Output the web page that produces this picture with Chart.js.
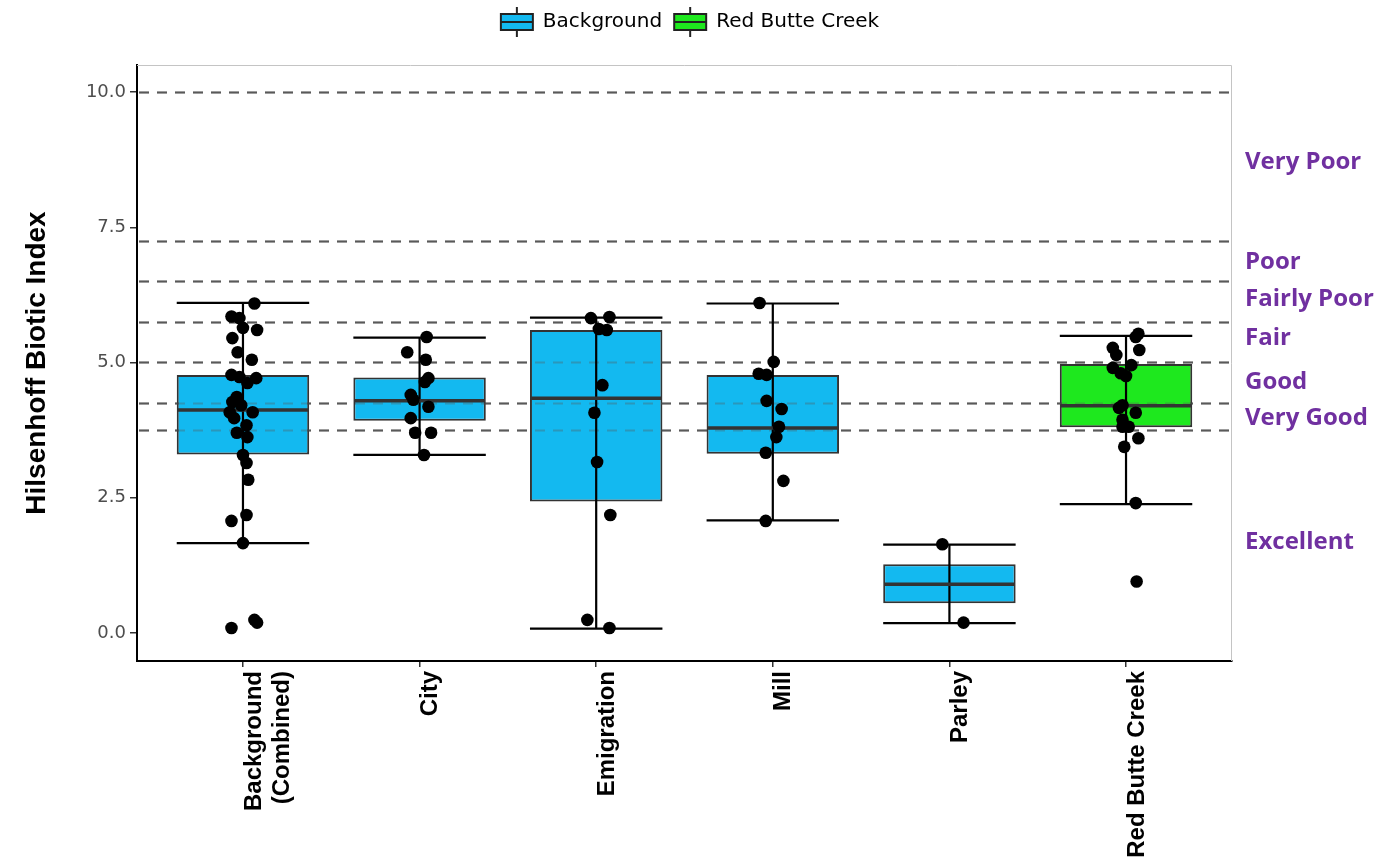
<!DOCTYPE html>
<html lang="en">
<head>
    <meta charset="UTF-8">
    <title>Hilsenhoff Biotic Index</title>
    <script src="https://cdn.jsdelivr.net/npm/chart.js"></script>
    <style>
        body { margin: 0; background: #fff; }
        .wrap { width: 1380px; height: 864px; position: relative; }
    </style>
</head>
<body>
<div class="wrap"><canvas id="myChart"></canvas></div>
<script>
    // sites on the x axis and which group each belongs to
    const categories = [['Background', '(Combined)'], 'City', 'Emigration', 'Mill', 'Parley', 'Red Butte Creek'];
    const groups = ['Background', 'Background', 'Background', 'Background', 'Background', 'Red Butte Creek'];

    // box stats
    const whiskerLow  = [1.66, 3.29, 0.08, 2.08, 0.18, 2.38];
    const q1          = [3.30, 3.92, 2.43, 3.31, 0.55, 3.80];
    const median      = [4.12, 4.29, 4.34, 3.79, 0.90, 4.20];
    const q3          = [4.77, 4.72, 5.60, 4.77, 1.27, 4.97];
    const whiskerHigh = [6.10, 5.46, 5.83, 6.09, 1.63, 5.49];

    // samples: [jitter, value]
    const points = [
        [[0.065, 6.09], [-0.065, 5.85], [-0.02, 5.82], [0, 5.64], [0.08, 5.60], [-0.06, 5.45], [-0.03, 5.19],
         [0.05, 5.05], [-0.065, 4.77], [-0.02, 4.73], [0.075, 4.71], [0.025, 4.62], [-0.035, 4.36], [-0.06, 4.27],
         [-0.01, 4.21], [0.055, 4.08], [-0.075, 4.08], [-0.05, 3.97], [0.02, 3.84], [-0.035, 3.70], [0.025, 3.62],
         [0, 3.29], [0.02, 3.14], [0.03, 2.83], [0.02, 2.18], [-0.065, 2.07], [0, 1.66], [-0.065, 0.09],
         [0.065, 0.24], [0.08, 0.19]],
        [[0.04, 5.47], [-0.07, 5.19], [0.035, 5.05], [0.05, 4.71], [0.03, 4.64], [-0.05, 4.40], [-0.035, 4.31],
         [0.05, 4.18], [-0.05, 3.97], [-0.025, 3.70], [0.065, 3.70], [0.025, 3.29]],
        [[-0.03, 5.82], [0.075, 5.84], [0.015, 5.62], [0.06, 5.60], [0.035, 4.58], [-0.01, 4.07], [0.005, 3.16],
         [0.08, 2.18], [-0.05, 0.24], [0.075, 0.09]],
        [[-0.075, 6.10], [0.005, 5.01], [-0.08, 4.79], [-0.035, 4.77], [-0.035, 4.29], [0.05, 4.14], [0.035, 3.81],
         [0.02, 3.62], [-0.04, 3.33], [0.06, 2.81], [-0.04, 2.07]],
        [[-0.04, 1.64], [0.08, 0.19]],
        [[0.07, 5.53], [0.055, 5.47], [-0.075, 5.27], [0.075, 5.23], [-0.055, 5.14], [-0.075, 4.90], [0.03, 4.95],
         [-0.03, 4.80], [0, 4.75], [-0.02, 4.21], [-0.04, 4.16], [0.055, 4.07], [-0.02, 3.94], [0.015, 3.81],
         [-0.02, 3.81], [0.07, 3.60], [-0.01, 3.44], [0.055, 2.40], [0.06, 0.95]]
    ];

    // rating classes on the right
    const thresholds = [10.0, 7.25, 6.5, 5.75, 5.0, 4.25, 3.75];
    const ratingLabels = ['Very Poor', 'Poor', 'Fairly Poor', 'Fair', 'Good', 'Very Good', 'Excellent'];
    const ratingAt = [8.71, 6.86, 6.17, 5.45, 4.64, 3.97, 1.68];
    const yTicks = [0, 2.5, 5, 7.5, 10];

    const groupColors = { 'Background': '#13B9F0', 'Red Butte Creek': '#1EE81E' };
    const boxWidth = 0.75;

    function boxData(group) {
        const out = [];
        categories.forEach((c, i) => {
            if (groups[i] === group) out.push({ x: i, y: [q1[i], q3[i]] });
        });
        return out;
    }

    function makeIcon(fill) {
        const c = document.createElement('canvas');
        c.width = 36;
        c.height = 32;
        const g = c.getContext('2d');
        g.strokeStyle = '#222';
        g.lineWidth = 2;
        g.beginPath();
        g.moveTo(18, 1); g.lineTo(18, 31);
        g.stroke();
        g.fillStyle = fill;
        g.fillRect(2, 8, 32, 16);
        g.strokeRect(2, 8, 32, 16);
        g.beginPath();
        g.moveTo(2, 16); g.lineTo(34, 16);
        g.stroke();
        return c;
    }

    function dashes(ctx, chart, color, width) {
        const { left, right } = chart.chartArea;
        const y = chart.scales.y;
        ctx.save();
        ctx.strokeStyle = color;
        ctx.lineWidth = width;
        ctx.setLineDash([10, 8]);
        thresholds.forEach(t => {
            const py = Math.round(y.getPixelForValue(t)) + 0.5;
            ctx.beginPath();
            ctx.moveTo(left + 2, py);
            ctx.lineTo(right, py);
            ctx.stroke();
        });
        ctx.restore();
    }

    const boxExtras = {
        id: 'boxExtras',
        beforeDatasetsDraw(chart) {
            dashes(chart.ctx, chart, '#5a5a5a', 2);
        },
        beforeDatasetDraw(chart, args) {
            if (args.meta.type !== 'scatter') return;
            const ctx = chart.ctx;
            const x = chart.scales.x, y = chart.scales.y;
            dashes(ctx, chart, 'rgba(90,90,90,0.35)', 2);
            ctx.save();
            categories.forEach((c, i) => {
                const xl = x.getPixelForValue(i - boxWidth / 2);
                const xr = x.getPixelForValue(i + boxWidth / 2);
                const xc = x.getPixelForValue(i);
                const lo = y.getPixelForValue(whiskerLow[i]);
                const hi = y.getPixelForValue(whiskerHigh[i]);
                ctx.strokeStyle = '#000';
                ctx.lineWidth = 2.2;
                ctx.beginPath();
                ctx.moveTo(xc, lo); ctx.lineTo(xc, hi);
                ctx.moveTo(xl, lo); ctx.lineTo(xr, lo);
                ctx.moveTo(xl, hi); ctx.lineTo(xr, hi);
                ctx.stroke();
                const md = y.getPixelForValue(median[i]);
                ctx.strokeStyle = '#333';
                ctx.lineWidth = 3.5;
                ctx.beginPath();
                ctx.moveTo(xl + 1, md); ctx.lineTo(xr - 1, md);
                ctx.stroke();
            });
            ctx.restore();
        },
        afterDraw(chart) {
            const ctx = chart.ctx;
            const { left, right, top, bottom } = chart.chartArea;
            ctx.save();
            ctx.strokeStyle = '#c4c4c4';
            ctx.lineWidth = 1;
            ctx.beginPath();
            ctx.moveTo(left, top + 0.5);
            ctx.lineTo(right - 0.5, top + 0.5);
            ctx.lineTo(right - 0.5, bottom);
            ctx.stroke();
            ctx.fillStyle = '#7030A0';
            ctx.font = 'bold 24px "Open Sans"';
            ctx.textAlign = 'left';
            ctx.textBaseline = 'middle';
            ratingLabels.forEach((t, i) => {
                ctx.fillText(t, right + 13, chart.scales.y.getPixelForValue(ratingAt[i]));
            });
            ctx.restore();
        }
    };

    const ctx = document.getElementById('myChart').getContext('2d');
    const myChart = new Chart(ctx, {
        type: 'bar',
        data: {
            datasets: [
                {
                    label: 'Background',
                    data: boxData('Background'),
                    backgroundColor: groupColors['Background'],
                    borderColor: '#333',
                    borderWidth: 2,
                    borderSkipped: false,
                    grouped: false,
                    barPercentage: boxWidth,
                    categoryPercentage: 1,
                    order: 2
                },
                {
                    label: 'Red Butte Creek',
                    data: boxData('Red Butte Creek'),
                    backgroundColor: groupColors['Red Butte Creek'],
                    borderColor: '#333',
                    borderWidth: 2,
                    borderSkipped: false,
                    grouped: false,
                    barPercentage: boxWidth,
                    categoryPercentage: 1,
                    order: 2
                },
                {
                    type: 'scatter',
                    label: 'samples',
                    data: points.flatMap((list, i) => list.map(p => ({ x: i + p[0], y: p[1] }))),
                    pointRadius: 6.3,
                    pointBackgroundColor: '#000',
                    pointBorderWidth: 0,
                    order: 1
                }
            ]
        },
        options: {
            responsive: true,
            maintainAspectRatio: false,
            animation: false,
            layout: { padding: 0 },
            plugins: {
                tooltip: { enabled: false },
                legend: {
                    position: 'top',
                    weight: 3000,
                    labels: {
                        usePointStyle: true,
                        pointStyleWidth: 32,
                        padding: 12,
                        color: '#222',
                        font: { family: 'DejaVu Sans', size: 20 },
                        generateLabels: () => ['Background', 'Red Butte Creek'].map((g, i) => ({
                            text: g,
                            pointStyle: makeIcon(groupColors[g]),
                            fillStyle: groupColors[g],
                            strokeStyle: '#222',
                            lineWidth: 0,
                            hidden: false,
                            datasetIndex: i
                        }))
                    }
                },
                title: {
                    display: true,
                    text: ' ',
                    font: { size: 13, lineHeight: 1 },
                    padding: { top: 5, bottom: 5 }
                }
            },
            scales: {
                x: {
                    type: 'linear',
                    offset: false,
                    min: -0.6,
                    max: 5.6,
                    afterBuildTicks: s => { s.ticks = categories.map((c, i) => ({ value: i })); },
                    afterFit: s => { s.height = 203; },
                    ticks: {
                        callback: v => categories[v],
                        autoSkip: false,
                        minRotation: 90,
                        maxRotation: 90,
                        padding: 4,
                        labelOffset: 11,
                        color: '#000',
                        font: { family: 'Liberation Sans', size: 24, weight: 'bold' }
                    },
                    grid: { offset: false, drawOnChartArea: false, tickLength: 6, color: '#333', lineWidth: 1.5 },
                    border: { color: '#000', width: 2 }
                },
                y: {
                    min: -0.52,
                    max: 10.5,
                    afterBuildTicks: s => { s.ticks = yTicks.map(v => ({ value: v })); },
                    afterFit: s => { s.width = 137; },
                    ticks: {
                        callback: v => v.toFixed(1),
                        padding: 4,
                        color: '#4d4d4d',
                        font: { family: 'DejaVu Sans', size: 18 }
                    },
                    grid: { drawOnChartArea: false, tickLength: 7, color: '#333', lineWidth: 1.5 },
                    border: { color: '#000', width: 2 },
                    title: {
                        display: true,
                        text: 'Hilsenhoff Biotic Index',
                        color: '#000',
                        padding: { top: 20, bottom: 0 },
                        font: { family: 'Liberation Sans', size: 28, weight: 'bold' }
                    }
                },
                // empty strip on the right for the rating labels
                yRight: {
                    position: 'right',
                    afterFit: s => { s.width = 148; },
                    ticks: { display: false },
                    grid: { display: false },
                    border: { display: false }
                }
            }
        },
        plugins: [boxExtras]
    });
</script>
</body>
</html>
